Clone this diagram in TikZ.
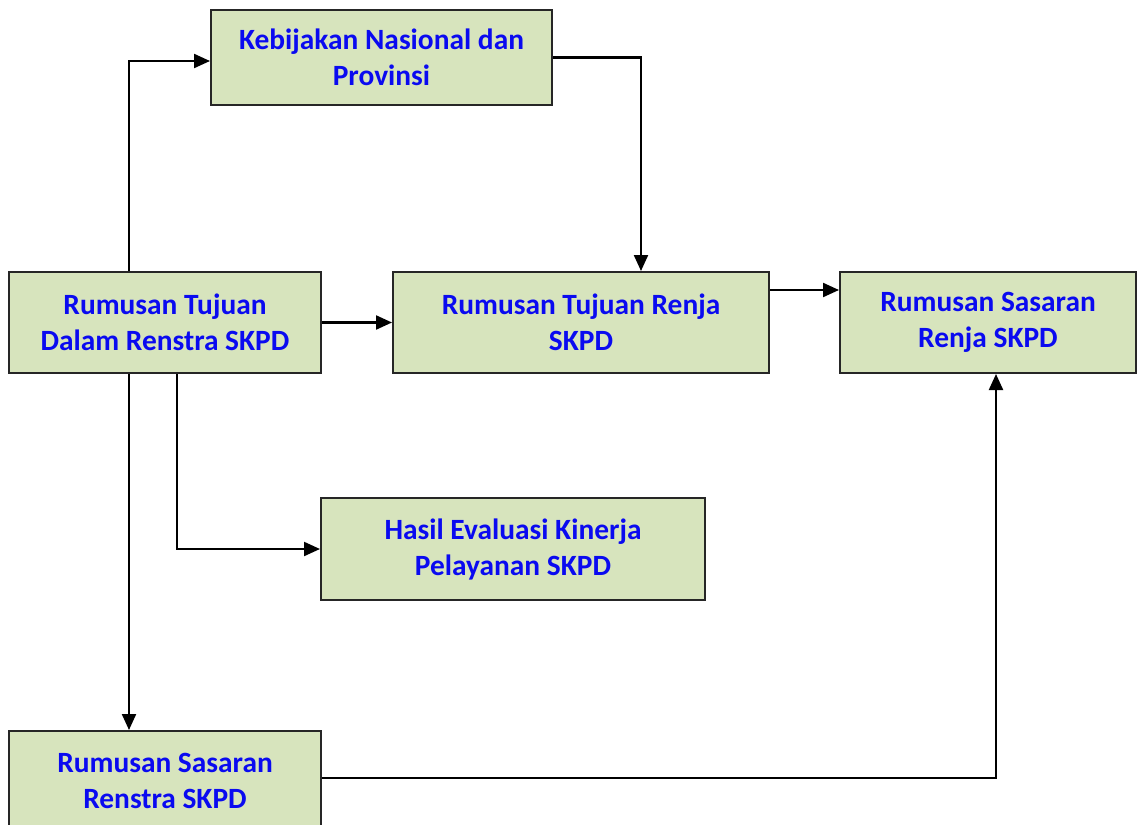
\documentclass[tikz,border=0pt]{standalone}
\usepackage{fontspec}
\setmainfont{Carlito}
\usetikzlibrary{arrows.meta}
\definecolor{boxgreen}{HTML}{D7E4BD}
\definecolor{boxblue}{HTML}{0A0AF0}
\begin{document}
\begin{tikzpicture}
    [x=0.5pt, y=-0.5pt,
     box/.style={draw=black!85, line width=1pt, fill=boxgreen, align=center,
                 text=boxblue, font=\fontsize{14.7pt}{18pt}\selectfont\bfseries,
                 inner sep=0pt},
     arr/.style={line width=1.1pt, -{Triangle[length=8pt,width=7pt]}}]

    \useasboundingbox (0, 0) rectangle (1137, 825);

    \node [box, minimum width=170.5pt, minimum height=47.5pt] at (381.5,  57.5) (keb) {Kebijakan Nasional dan\\Provinsi};
    \node [box, minimum width=156pt,   minimum height=50.5pt] at (165,   322.5) (tr)  {Rumusan Tujuan\\Dalam Renstra SKPD};
    \node [box, minimum width=188pt,   minimum height=50.5pt] at (581,   322.5) (trj) {Rumusan Tujuan Renja\\SKPD};
    \node [box, minimum width=148pt,   minimum height=50.5pt] at (988,   322.5) (sr)  {Rumusan Sasaran\\Renja SKPD};
    \node [box, minimum width=192pt,   minimum height=51pt]   at (513,   549)   (hes) {Hasil Evaluasi Kinerja\\Pelayanan SKPD};
    \node [box, minimum width=156pt,   minimum height=50pt]   at (165,   781)   (srs) {Rumusan Sasaran\\Renstra SKPD};

    \draw [arr] ([xshift=-18pt]tr.north) |- ([yshift=-1.75pt]keb.west);
    \draw [arr] (keb.east) -| ([xshift=30pt]trj.north);
    \draw [arr] (tr.east) -- (trj.west);
    \draw [arr] ([yshift=16.25pt]trj.east) -- ([yshift=16.25pt]sr.west);
    \draw [arr] ([xshift=6pt]tr.south) |- (hes.west);
    \draw [arr] ([xshift=-18pt]tr.south) -- ([xshift=-18pt]srs.north);
    \draw [arr] ([yshift=1.5pt]srs.east) -| ([xshift=4pt]sr.south);

\end{tikzpicture}
\end{document}
